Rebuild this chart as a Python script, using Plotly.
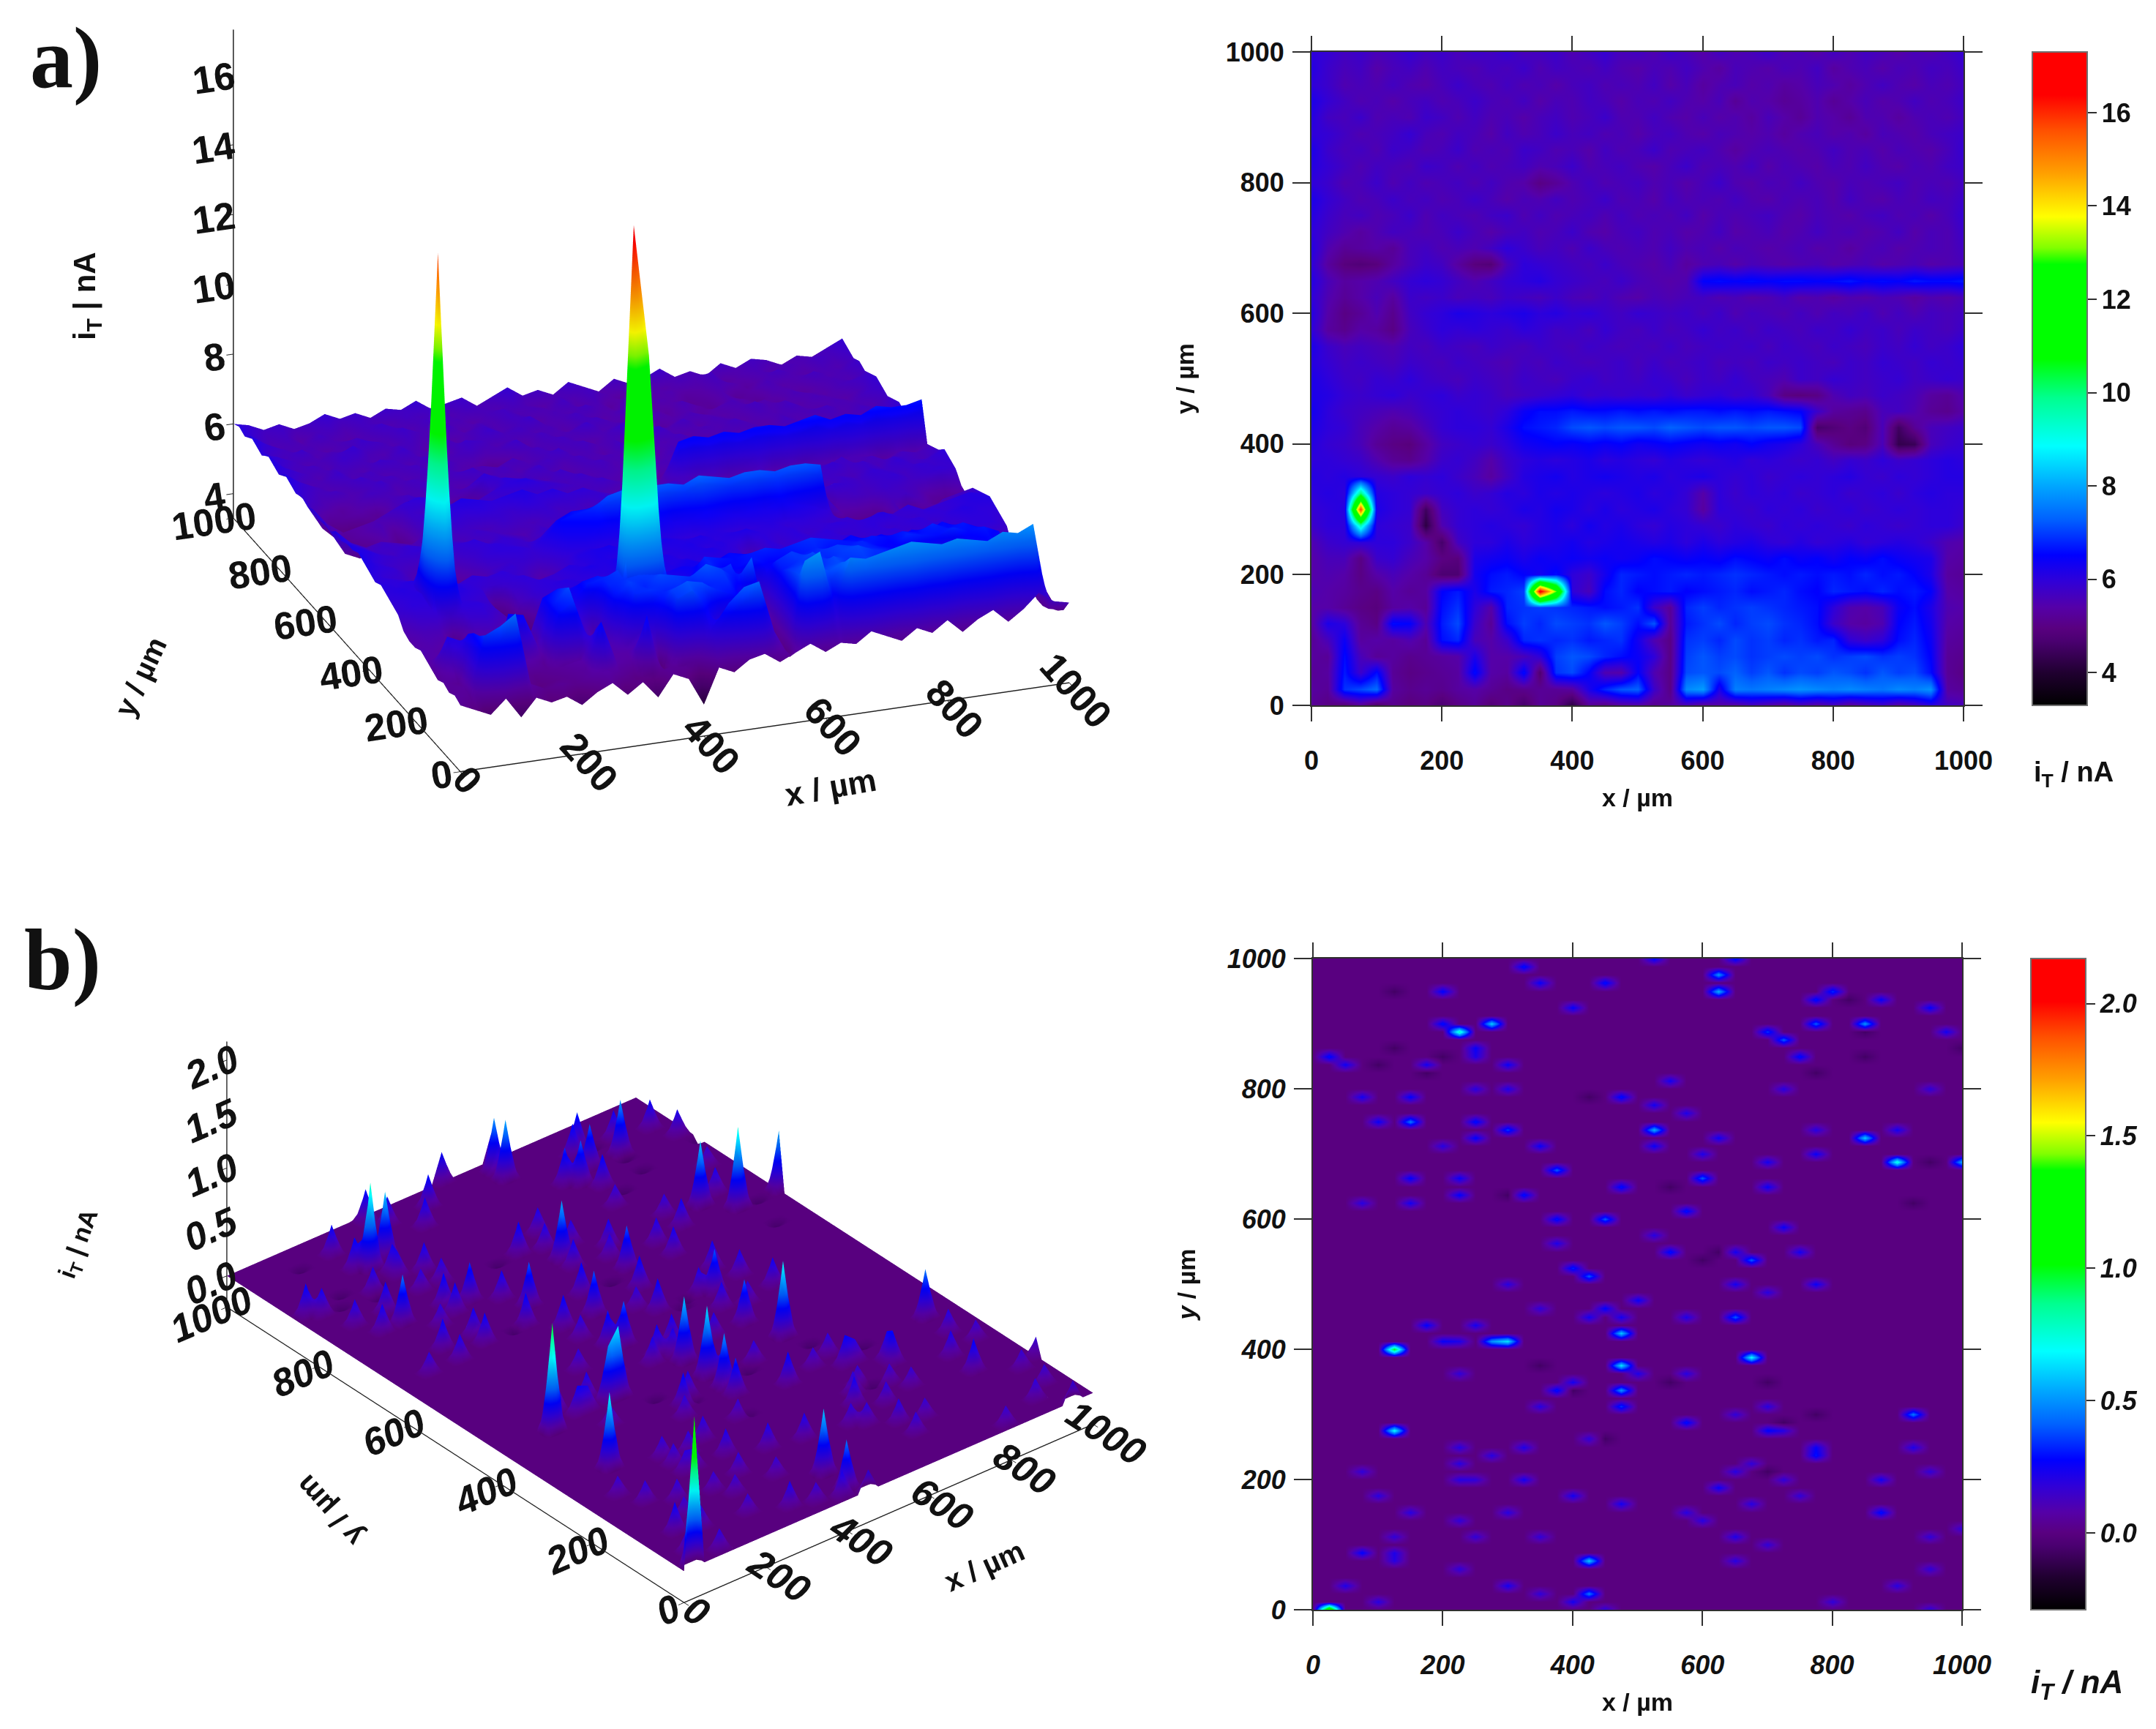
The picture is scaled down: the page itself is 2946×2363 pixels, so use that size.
import plotly.graph_objects as go
import numpy as np

W, H = 2946, 2363

colorscale = [[0.0,"#000000"],[0.05,"#200030"],[0.098,"#4a0070"],[0.118,"#590080"],[0.15,"#5500a8"],[0.19,"#3000d8"],
              [0.23,"#0000ff"],[0.284,"#0060ff"],[0.337,"#00a8ff"],[0.397,"#00ffff"],[0.47,"#00ff90"],[0.53,"#00ff00"],
              [0.675,"#00ff00"],[0.70,"#80ff00"],[0.748,"#ffff00"],[0.814,"#ffa000"],[0.88,"#ff5000"],[0.934,"#ff0000"],[1.0,"#ff0000"]]

# ---- panel a: current in tenths of nA, rows from y=1000 down to y=0, columns x=0..1000 step 25
a_tenths = [
[60,59,57,58,56,57,59,57,58,56, 58,57,59,56,57,58,55,57,59,56, 57,55,58,56,54,57,55,56,58,55, 56,54,57,55,57,56,54,56,55,57,59],
[61,58,56,57,54,56,57,55,57,56, 55,57,56,58,55,57,56,55,57,55, 54,56,55,57,55,53,56,55,54,56, 55,57,53,55,56,54,56,55,57,56,58],
[60,58,55,56,55,57,55,54,56,58, 56,55,57,55,56,54,56,57,55,56, 55,57,54,56,53,55,56,54,55,53, 54,56,55,53,55,57,55,54,56,55,57],
[62,59,57,55,56,54,56,57,55,56, 58,56,55,57,54,56,55,57,56,54, 56,55,57,55,54,56,52,55,54,52, 53,55,52,54,56,54,55,57,55,56,58],
[61,57,56,58,55,56,55,58,57,55, 57,55,56,54,56,57,55,56,58,55, 55,57,55,54,56,54,55,53,56,54, 52,55,54,52,55,55,53,55,56,55,57],
[60,59,57,55,56,57,59,56,55,57, 56,54,57,55,56,58,56,57,55,56, 54,56,57,55,54,56,55,54,55,53, 55,56,54,55,53,56,55,54,56,57,58],
[62,58,56,57,55,58,57,55,56,58, 55,56,55,58,57,55,56,54,57,55, 56,58,55,56,57,55,53,55,56,55, 54,55,57,55,56,54,56,55,54,56,59],
[61,59,57,55,57,56,55,58,57,55, 57,55,56,57,55,56,58,55,56,57, 55,54,56,58,55,56,55,57,54,56, 55,54,56,55,57,55,54,56,55,57,58],
[60,58,55,56,58,55,57,55,56,57, 55,57,55,54,50,52,55,57,55,56, 57,55,56,54,56,58,55,54,56,55, 57,55,54,56,55,56,57,55,56,55,57],
[62,59,57,55,56,58,56,57,55,56, 58,56,54,56,55,57,55,56,58,55, 56,54,57,55,56,55,57,55,54,56, 55,56,54,57,55,54,56,55,57,56,58],
[61,58,56,57,55,56,58,55,57,56, 55,57,58,55,57,55,56,57,55,57, 55,56,55,57,54,56,55,56,57,55, 54,56,55,54,56,57,55,56,54,56,59],
[60,57,55,53,55,57,56,55,56,58, 56,54,56,57,55,56,58,55,54,56, 57,55,56,54,55,57,54,55,56,54, 55,57,55,56,54,55,57,54,56,55,58],
[61,55,52,53,54,52,56,57,55,56, 55,57,60,58,56,57,55,58,56,55, 56,55,57,55,56,54,56,55,54,55, 56,54,55,53,55,56,54,55,56,55,57],
[60,53,49,48,49,53,56,58,57,53, 49,48,56,60,59,58,57,56,58,56, 55,54,56,53,55,56,54,56,55,54, 55,56,54,55,56,54,55,56,54,55,56],
[61,56,53,54,55,57,59,60,59,57, 55,57,59,60,61,59,58,57,56,58, 56,55,54,55,65,66,65,66,65,66, 66,65,66,67,65,66,65,67,66,66,67],
[60,55,52,54,56,53,58,57,58,56, 57,56,58,57,56,58,56,55,57,55, 54,56,55,56,57,55,56,54,55,57, 54,55,53,55,54,56,55,53,55,54,56],
[61,54,50,52,55,51,57,59,60,62, 61,60,61,62,60,61,59,60,58,57, 59,58,57,58,56,58,55,57,56,55, 57,55,57,56,58,55,57,55,57,56,57],
[60,53,51,54,53,50,56,58,60,59, 60,59,58,60,59,57,58,56,59,57, 56,58,56,57,59,57,58,56,58,57, 56,58,57,59,57,58,56,58,57,56,58],
[62,58,56,57,56,55,57,56,58,57, 56,58,57,56,58,57,56,58,57,56, 57,56,58,56,57,58,57,58,56,58, 57,56,58,57,56,58,57,59,57,58,60],
[61,59,57,58,57,56,58,57,56,58, 57,56,55,57,56,58,57,56,57,58, 56,58,56,57,58,56,57,56,58,57, 58,57,56,58,57,59,58,57,59,58,59],
[62,60,58,57,59,58,60,58,57,56, 58,57,56,58,57,56,58,59,57,58, 57,59,58,56,58,57,59,57,56,55, 58,57,59,58,57,58,59,57,58,59,58],
[62,61,59,58,59,60,58,59,60,58, 59,58,56,57,58,59,60,58,59,58, 59,58,60,58,59,60,58,59,56,50, 49,50,55,57,56,58,57,56,53,52,55],
[63,60,58,57,56,55,56,58,59,60, 59,58,60,64,66,66,67,66,66,67, 66,67,66,67,67,66,67,66,67,66, 65,58,53,52,51,56,57,55,52,51,54],
[62,60,59,56,54,52,53,56,59,60, 60,59,62,66,67,68,71,72,71,72, 72,71,73,72,71,72,72,71,72,72, 71,46,48,50,48,56,45,52,56,57,58],
[61,59,58,56,52,50,49,53,57,58, 59,58,60,63,64,65,64,65,64,65, 63,64,65,64,63,64,63,65,63,62, 60,56,52,49,50,56,43,44,56,58,59],
[60,60,59,58,55,52,51,54,58,59, 57,54,58,60,61,60,61,62,60,61, 60,59,61,60,59,60,61,59,60,59, 58,59,57,59,58,60,58,59,60,61,60],
[61,60,61,60,59,58,60,59,60,58, 56,53,57,61,62,63,61,62,63,62, 61,62,60,61,62,60,59,60,58,59, 60,59,60,61,59,58,60,59,60,61,61],
[60,61,60,100,61,60,59,58,59,60, 58,59,61,60,62,61,62,61,60,61, 62,60,61,59,54,60,58,60,59,60, 58,59,60,58,59,60,58,60,61,60,60],
[59,60,61,158,62,60,59,45,57,59, 60,59,60,62,61,63,62,60,62,60, 61,62,60,59,53,60,59,58,60,59, 60,58,59,60,58,59,60,59,60,60,59],
[58,60,60,95,60,59,58,42,55,59, 60,61,60,59,61,62,60,63,61,62, 60,59,61,60,59,58,60,59,58,60, 59,60,59,58,60,59,58,59,60,60,58],
[55,58,59,60,60,60,58,54,46,57, 60,60,62,60,61,62,63,61,62,63, 62,61,62,60,62,60,61,62,60,59, 61,59,60,61,59,60,61,60,58,55,54],
[54,56,56,50,58,59,56,54,50,49, 62,63,64,62,64,63,64,63,64,63, 64,66,65,64,65,64,66,65,64,66, 64,65,63,65,64,66,64,63,62,54,53],
[54,55,54,50,54,56,54,52,47,47, 63,66,67,65,63,66,60,58,63,68, 67,66,67,68,67,68,69,68,67,66, 67,66,67,66,68,66,67,65,62,53,52],
[55,54,53,51,50,54,52,53,65,67, 62,67,68,70,168,130,60,56,66,68, 65,66,67,65,66,67,68,66,67,68, 66,65,68,67,66,68,66,67,65,54,53],
[54,54,52,50,49,53,54,52,66,69, 60,54,68,69,70,69,68,67,66,67, 69,58,52,68,70,68,69,70,69,68, 67,66,60,55,54,56,64,66,62,55,54],
[53,62,60,52,50,66,65,55,67,71, 58,52,66,70,68,71,70,69,72,70, 66,72,52,67,69,71,68,70,71,69, 68,66,58,54,53,55,65,67,63,54,53],
[52,56,64,53,54,53,55,52,66,68, 56,54,58,68,69,68,69,67,68,69, 63,55,50,69,70,68,71,69,70,68, 69,67,68,60,58,60,66,68,64,53,52],
[53,52,66,56,52,53,51,52,53,54, 62,54,54,56,60,70,72,71,68,66, 64,60,50,70,72,70,71,69,70,71, 70,71,69,70,71,69,70,69,65,52,51],
[52,53,67,58,66,52,50,51,52,53, 66,54,53,66,47,69,71,65,55,54, 65,55,50,71,72,71,73,70,72,69, 71,70,72,71,69,72,70,71,66,52,50],
[53,52,69,71,74,53,51,52,51,53, 54,52,50,51,52,52,53,62,68,72, 73,58,50,77,79,62,76,75,76,77, 78,77,76,77,76,75,77,76,78,53,52],
[52,50,48,52,46,51,49,50,47,50, 52,48,51,46,52,50,42,52,50,53, 54,51,53,55,52,54,53,56,54,52, 55,53,56,52,55,57,53,56,60,57,56],
]
a_x = list(range(0, 1001, 25))
a_y = list(range(1000, -1, -25))
a_z = (np.array(a_tenths, dtype=float) / 10.0).tolist()

b_x = list(range(0, 1001, 25))
b_y = [i * 12.5 for i in range(81)]
bright_x = [30,120,130,228,270,290,283,487,487,465,667,655,667,842,902,995,625,635,520,420,430,855,785,720,925,160,300,418,458,595,375,575]
bright_y = [0,397,278,885,905,410,412,425,377,337,390,445,535,723,693,683,945,975,743,78,30,895,905,880,298,753,733,515,595,665,675,615]
bright_z = [1.4,1.0,.7,.8,.6,.65,.5,.6,.65,.5,.7,.4,.4,.6,.75,.55,.55,.5,.55,.6,.45,.5,.4,.4,.45,.45,.35,.4,.4,.4,.4,.3]
faint_x = [30,38,145,185,190,250,260,262,290,195,335,345,445,395,530,640,800,765,880,950,985,740,710,690,1000,560,310,245,70,100,470,515,585,725,945,350,205,260,530,610,625,775,765,905,150,225,710,480,690,325,215,140,65,385,715,370,530,545,650,760,400,305,655,785,710,505,440,450,475,415,360,580,250,175,200,225,585,510,235,400,365,465,350,583,690,650,690,720,765,770,230,315,925,285,430,220,680,650,955,870,735,80,220,250,325,635,95,745,405,465,680,305,155,220,565,880,610,660,115,945,990,250,350,705,85,120,125,640,225,50,95,305,355,910,945,790,400,455,940]
faint_y = [855,833,785,840,895,865,753,845,835,953,983,963,967,923,1000,1000,955,933,935,925,885,845,893,885,860,815,805,805,785,753,785,773,763,795,795,715,715,725,715,695,720,705,733,733,663,665,683,655,645,635,635,625,625,595,585,565,575,545,555,555,525,505,495,505,485,475,465,465,455,455,465,445,435,435,415,408,365,358,365,345,337,318,307,287,307,300,277,270,240,250,255,255,255,240,265,230,228,217,217,205,205,207,205,198,198,187,177,178,178,168,158,155,147,138,148,145,135,118,117,117,128,110,110,97,88,88,78,70,68,40,18,40,30,40,58,18,8,0,0]
faint_z = [.3,.25,.28,.24,.3,.26,.3,.22,.26,.28,.3,.26,.3,.27,.28,.3,.33,.3,.26,.27,.24,.3,.34,.28,.22,.24,.22,.2,.24,.26,.3,.24,.22,.2,.18,.26,.2,.28,.26,.22,.25,.26,.2,.24,.28,.26,.24,.3,.26,.3,.28,.24,.2,.3,.26,.22,.2,.3,.24,.24,.32,.2,.24,.26,.2,.26,.26,.28,.24,.24,.18,.22,.24,.28,.26,.22,.2,.22,.18,.24,.3,.34,.2,.3,.2,.18,.28,.2,.3,.26,.2,.22,.22,.2,.18,.2,.18,.2,.18,.24,.18,.18,.2,.18,.24,.26,.2,.18,.24,.24,.2,.2,.2,.18,.2,.3,.2,.22,.18,.18,.18,.18,.18,.18,.28,.22,.2,.2,.18,.22,.2,.24,.18,.2,.18,.18,.24,.2,.2]
dark_x = [130,115,190,205,100,310,420,595,830,845,840,945,700,405,350,555,775,990,625,785,930,560,165,455,710,735]
dark_y = [945,865,855,845,838,635,785,535,935,885,850,685,355,340,375,345,295,860,545,820,625,650,820,260,215,290]
b_bg = 0.0
b_grid = np.full((len(b_y), len(b_x)), b_bg)
for xs, ys, zs in ((faint_x, faint_y, faint_z), (bright_x, bright_y, bright_z)):
    for px_, py_, pz in zip(xs, ys, zs):
        r, c = int(round(py_ / 12.5)), int(round(px_ / 25))
        b_grid[r, c] = max(b_grid[r, c], pz)
for px_, py_ in zip(dark_x, dark_y):
    b_grid[int(round(py_ / 12.5)), int(round(px_ / 25))] = -0.07
b_z = b_grid.tolist()

a_lim = (3.3, 17.3)
b_lim = (-0.29, 2.17)
map_ticks = [0, 200, 400, 600, 800, 1000]
a_cb_ticks = [4, 6, 8, 10, 12, 14, 16]
b_cb_ticks = [0.0, 0.5, 1.0, 1.5, 2.0]
a_z_ticks = [4, 6, 8, 10, 12, 14, 16]
b_z_ticks = [0.0, 0.5, 1.0, 1.5, 2.0]

FONT = "Liberation Sans"
INK = "#303030"
tf = dict(family=FONT, size=36, color="#111111", weight=700)
tfi = dict(family=FONT, size=36, color="#111111", weight=700, style="italic")
tf3a = dict(family=FONT, size=25, color="#111111", weight=700)
tf3b = dict(family=FONT, size=25, color="#111111", weight=700, style="italic")

light = dict(ambient=0.95, diffuse=0.12, specular=0.0, roughness=1.0, fresnel=0.0)

def px(x): return x / W
def py(y): return 1 - y / H

def cb(x0, y0, y1, ticks, fmt, font):
    return dict(x=px(x0), xanchor="left", y=py(y1), yanchor="bottom", len=y1 - y0, lenmode="pixels",
                thickness=75, thicknessmode="pixels", xpad=0, ypad=0, tickvals=ticks, tickformat=fmt,
                ticks="outside", ticklen=12, tickwidth=2, tickcolor=INK, tickfont=font,
                outlinecolor="#707070", outlinewidth=2)

fig = go.Figure()
fig.add_trace(go.Surface(x=a_x, y=a_y, z=a_z, colorscale=colorscale, cmin=a_lim[0], cmax=a_lim[1], showscale=False,
                         lighting=light, scene="scene"))
fig.add_trace(go.Surface(x=b_x, y=b_y, z=b_z, colorscale=colorscale, cmin=b_lim[0], cmax=b_lim[1], showscale=False,
                         lighting=light, scene="scene2"))
fig.add_trace(go.Heatmap(x=a_x, y=a_y, z=a_z, colorscale=colorscale, zmin=a_lim[0], zmax=a_lim[1], zsmooth="best",
                         xaxis="x", yaxis="y", colorbar=cb(2777, 71, 964, a_cb_ticks, "d", tf)))
fig.add_trace(go.Heatmap(x=b_x, y=b_y, z=b_z, colorscale=colorscale, zmin=b_lim[0], zmax=b_lim[1], zsmooth="best",
                         xaxis="x2", yaxis="y2", colorbar=cb(2775, 1310, 2200, b_cb_ticks, ".1f", tfi)))

def map_axis(d0, d1, anchor, title, font, ticklen, lab, standoff):
    return dict(domain=[d0, d1], anchor=anchor, range=[0, 1000], tickvals=map_ticks, ticks="outside", ticklen=ticklen, tickwidth=2,
                ticklabelstandoff=lab, tickcolor=INK, linecolor=INK, linewidth=2, mirror="ticks", showgrid=False, zeroline=False,
                tickfont=font, title=dict(text=title, font=dict(family=FONT, size=34, color="#111111", weight=700), standoff=standoff))

def scene_axis(rng, ticks, font, fmt="d"):
    return dict(range=rng, tickvals=ticks, tickformat=fmt, showbackground=False, showgrid=False, zeroline=False,
                showspikes=False, showline=True, linecolor="#222222", linewidth=3, ticks="outside", ticklen=10,
                tickwidth=2, tickcolor="#222222", tickfont=font, title=dict(text=""))

def cam(e, shift):
    # e: unit view direction; shift: world shift of the look-at point that places the box on the page
    c = dict(x=shift[0], y=shift[1], z=shift[2])
    return dict(eye=dict(x=e[0] + shift[0], y=e[1] + shift[1], z=e[2] + shift[2]), center=c, up=dict(x=0, y=0, z=1),
                projection=dict(type="orthographic"))

SA = 1.546
SB = 1.664

def note(x, y, text, size, angle=0, family=FONT):
    return dict(x=px(x), y=py(y), text=text, showarrow=False, xref="paper", yref="paper", xanchor="center", yanchor="middle",
                textangle=angle, font=dict(family=family, size=size, color="#111111"))

fig.update_layout(
    width=W, height=H, margin=dict(l=0, r=0, t=0, b=0, autoexpand=False), paper_bgcolor="white", plot_bgcolor="white", showlegend=False,
    xaxis=map_axis(px(1792), px(2683), "y", "x / µm", tf, 20, 23, 19),
    yaxis=map_axis(py(964), py(71), "x", "y / µm", tf, 24, 4, 33),
    xaxis2=map_axis(px(1794), px(2681), "y2", "x / µm", tfi, 20, 23, 19),
    yaxis2=map_axis(py(2200), py(1310), "x2", "<i>y</i> / µm", tfi, 24, 4, 33),
    scene=dict(domain=dict(x=[px(10), px(1770)], y=[py(1180), py(0)]),
               aspectmode="manual", aspectratio=dict(x=0.97 * SA, y=1.0 * SA, z=0.8 * SA),
               xaxis=scene_axis([0, 1000], map_ticks, tf3a),
               yaxis=scene_axis([0, 1000], map_ticks, tf3a),
               zaxis=scene_axis(list(a_lim), a_z_ticks, tf3a),
               camera=cam((-0.311, -0.860, 0.404), (-0.024, -0.0665, -0.160))),
    scene2=dict(domain=dict(x=[px(22), px(1782)], y=[py(2363), py(1180)]),
                aspectmode="manual", aspectratio=dict(x=0.735 * SB, y=1.0 * SB, z=0.435 * SB),
                xaxis=scene_axis([0, 1000], map_ticks, tf3b),
                yaxis=scene_axis([0, 1000], map_ticks, tf3b),
                zaxis=scene_axis(list(b_lim), b_z_ticks, tf3b, ".1f"),
                camera=cam((-0.538, -0.655, 0.531), (-0.049, -0.060, -0.124))),
    annotations=[
        note(90, 80, "<b>a)</b>", 118, family="Liberation Serif"),
        note(85, 1311, "<b>b)</b>", 118, family="Liberation Serif"),
        note(2833, 1058, "<b>i<sub>T</sub> / nA</b>", 38),
        note(2838, 2302, "<b><i>i<sub>T</sub> / nA</i></b>", 44),
        note(118, 405, "<b>i<sub>T</sub> | nA</b>", 42, -90),
        note(192, 925, "<b>y / µm</b>", 40, -65),
        note(1135, 1075, "<b>x / µm</b>", 44, -10),
        note(108, 1700, "<b>i<sub>T</sub> | nA</b>", 34, -70),
        note(450, 2065, "<b>y / µm</b>", 40, -132),
        note(1345, 2140, "<b>x / µm</b>", 40, -24),
    ],
)
fig.write_html("out.html", config=dict(displayModeBar=False), post_script="document.body.style.margin='0';")
